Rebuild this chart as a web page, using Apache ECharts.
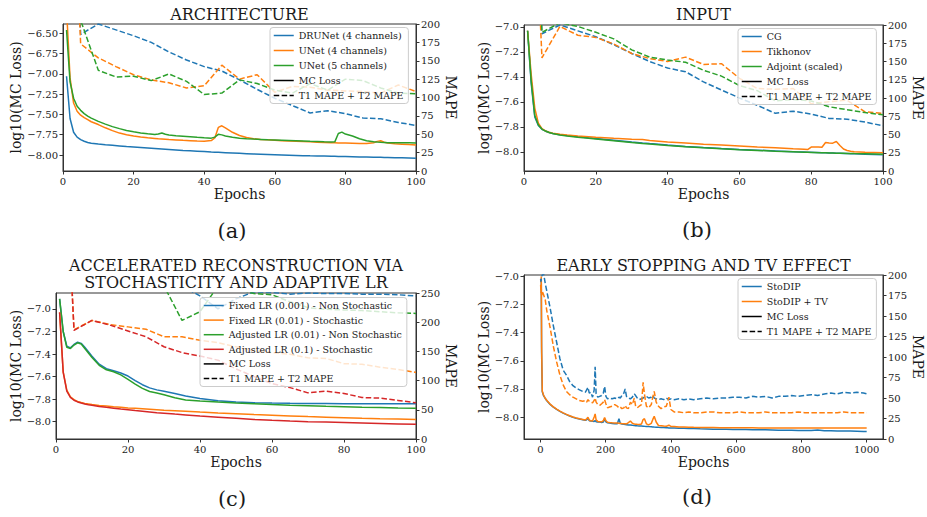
<!DOCTYPE html>
<html>
<head>
<meta charset="utf-8">
<title>MC loss and MAPE curves</title>
<script src="https://cdn.jsdelivr.net/npm/echarts@6/dist/echarts.min.js"></script>
<style>
  html, body { margin: 0; padding: 0; background: #fff; }
  #chart { width: 927px; height: 517px; }
</style>
</head>
<body>
<div id="chart"></div>
<script>
// ---- data: (a) architecture ----
const aLossEpochs = [1, 2, 3, 4, 5, 6, 7, 8, 10, 12, 14, 16, 18, 20, 22, 24, 26, 27, 28, 29, 30, 32, 34, 36, 38, 40, 42, 43, 44, 45, 46, 48, 50, 52, 54, 56, 58, 60, 62, 64, 66, 68, 70, 72, 74, 76, 77, 78, 79, 80, 82, 84, 86, 88, 89, 90, 91, 92, 94, 96, 98, 100];
const aDrunetLoss = [-7.03, -7.55, -7.72, -7.78, -7.81, -7.83, -7.845, -7.855, -7.865, -7.874, -7.881, -7.888, -7.895, -7.901, -7.907, -7.913, -7.919, -7.922, -7.925, -7.928, -7.931, -7.937, -7.943, -7.948, -7.953, -7.958, -7.963, -7.965, -7.967, -7.969, -7.971, -7.975, -7.979, -7.983, -7.987, -7.99, -7.993, -7.996, -7.999, -8.002, -8.005, -8.008, -8.01, -8.011, -8.013, -8.015, -8.016, -8.017, -8.018, -8.019, -8.021, -8.023, -8.025, -8.027, -8.028, -8.029, -8.03, -8.031, -8.033, -8.035, -8.037, -8.039];
const aUnet4Loss = [-6.2, -7.05, -7.36, -7.46, -7.51, -7.54, -7.565, -7.59, -7.625, -7.665, -7.7, -7.73, -7.75, -7.765, -7.778, -7.788, -7.796, -7.8, -7.803, -7.806, -7.809, -7.814, -7.819, -7.823, -7.827, -7.83, -7.822, -7.79, -7.66, -7.64, -7.665, -7.72, -7.76, -7.785, -7.8, -7.808, -7.813, -7.818, -7.823, -7.827, -7.831, -7.835, -7.838, -7.842, -7.845, -7.848, -7.849, -7.851, -7.852, -7.853, -7.855, -7.857, -7.858, -7.848, -7.832, -7.825, -7.842, -7.853, -7.86, -7.866, -7.872, -7.876];
const aUnet5Loss = [-6.46, -7.1, -7.3, -7.4, -7.45, -7.49, -7.52, -7.545, -7.585, -7.62, -7.65, -7.675, -7.698, -7.714, -7.728, -7.739, -7.748, -7.742, -7.728, -7.745, -7.753, -7.762, -7.768, -7.774, -7.782, -7.788, -7.792, -7.78, -7.745, -7.752, -7.766, -7.782, -7.793, -7.799, -7.804, -7.808, -7.812, -7.815, -7.818, -7.821, -7.824, -7.828, -7.832, -7.835, -7.838, -7.84, -7.838, -7.735, -7.718, -7.742, -7.765, -7.8, -7.825, -7.837, -7.841, -7.844, -7.846, -7.848, -7.849, -7.85, -7.85, -7.851];
const mapeEpochs = [1, 5, 10, 15, 20, 25, 30, 35, 40, 45, 50, 55, 60, 65, 70, 75, 80, 85, 90, 95, 100];
const aDrunetMape = [600, 186, 200, 192, 184, 175, 162, 151, 142, 136, 124, 111, 99, 89, 79, 82, 78, 72, 71, 66, 62];
const aUnet4Mape = [600, 173, 154, 142, 131, 124, 120, 113, 116, 144, 125, 131, 107, 115, 114, 110, 109, 108, 106, 117, 108];
const aUnet5Mape = [600, 205, 137, 128, 129, 123, 132, 122, 104, 106, 124, 119, 110, 106, 119, 110, 125, 123, 113, 106, 105];

// ---- data: (b) input ----
const bLossEpochs = [1, 2, 3, 4, 5, 6, 7, 8, 10, 12, 15, 18, 20, 25, 30, 33, 35, 40, 45, 50, 55, 60, 65, 70, 75, 78, 79, 80, 81, 82, 83, 84, 85, 86, 87, 88, 89, 90, 91, 92, 95, 100];
const bCgLoss = [-7.03, -7.45, -7.72, -7.79, -7.82, -7.835, -7.845, -7.853, -7.863, -7.87, -7.88, -7.888, -7.893, -7.907, -7.921, -7.929, -7.934, -7.946, -7.957, -7.966, -7.974, -7.981, -7.987, -7.993, -7.999, -8.002, -8.003, -8.004, -8.005, -8.006, -8.007, -8.008, -8.009, -8.01, -8.011, -8.012, -8.013, -8.014, -8.015, -8.016, -8.019, -8.024];
const bTikhonovLoss = [-7.03, -7.38, -7.65, -7.77, -7.815, -7.833, -7.843, -7.851, -7.86, -7.866, -7.873, -7.879, -7.883, -7.892, -7.899, -7.902, -7.91, -7.921, -7.93, -7.939, -7.946, -7.953, -7.961, -7.968, -7.975, -7.979, -7.982, -7.962, -7.961, -7.962, -7.964, -7.926, -7.93, -7.931, -7.918, -7.95, -7.978, -7.99, -7.996, -7.999, -8.003, -8.008];
const bAdjointLoss = [-7.03, -7.43, -7.71, -7.785, -7.818, -7.834, -7.845, -7.854, -7.865, -7.873, -7.883, -7.892, -7.897, -7.911, -7.925, -7.933, -7.938, -7.949, -7.959, -7.968, -7.976, -7.983, -7.989, -7.995, -8.0, -8.003, -8.004, -8.005, -8.006, -8.007, -8.008, -8.008, -8.009, -8.01, -8.011, -8.011, -8.012, -8.013, -8.013, -8.014, -8.016, -8.02];
const bCgMape = [600, 188, 200, 192, 184, 173, 161, 150, 141, 136, 122, 111, 100, 90, 79, 82, 78, 72, 71, 67, 62];
const bTikhonovMape = [600, 155, 198, 186, 183, 174, 161, 154, 150, 156, 146, 147, 127, 113, 112, 113, 92, 95, 97, 81, 79];
const bAdjointMape = [600, 190, 203, 198, 190, 181, 166, 156, 152, 149, 138, 130, 117, 110, 96, 98, 96, 88, 84, 80, 77];

// ---- data: (c) stochasticity and adaptive LR ----
const cLossEpochs = [1, 2, 3, 4, 5, 6, 7, 8, 9, 10, 12, 14, 16, 18, 20, 22, 24, 26, 28, 30, 33, 36, 40, 45, 50, 55, 60, 65, 70, 75, 80, 85, 90, 95, 100];
const cFixedNsLoss = [-6.91, -7.2, -7.33, -7.345, -7.315, -7.295, -7.305, -7.34, -7.38, -7.42, -7.49, -7.53, -7.548, -7.568, -7.595, -7.635, -7.672, -7.7, -7.718, -7.73, -7.75, -7.772, -7.795, -7.815, -7.826, -7.832, -7.835, -7.837, -7.838, -7.839, -7.84, -7.841, -7.841, -7.842, -7.842];
const cFixedStLoss = [-7.03, -7.56, -7.72, -7.78, -7.805, -7.82, -7.83, -7.838, -7.843, -7.848, -7.856, -7.862, -7.868, -7.873, -7.878, -7.882, -7.886, -7.89, -7.894, -7.898, -7.903, -7.908, -7.915, -7.923, -7.93, -7.937, -7.943, -7.949, -7.955, -7.96, -7.965, -7.97, -7.974, -7.977, -7.98];
const cAdjNsLoss = [-6.91, -7.2, -7.34, -7.35, -7.32, -7.3, -7.31, -7.35, -7.39, -7.43, -7.5, -7.54, -7.557, -7.585, -7.625, -7.667, -7.705, -7.732, -7.746, -7.762, -7.788, -7.808, -7.817, -7.826, -7.834, -7.841, -7.848, -7.854, -7.859, -7.864, -7.868, -7.872, -7.875, -7.878, -7.88];
const cAdjStLoss = [-7.03, -7.56, -7.73, -7.785, -7.81, -7.825, -7.835, -7.843, -7.85, -7.855, -7.865, -7.873, -7.88, -7.888, -7.895, -7.902, -7.908, -7.914, -7.92, -7.925, -7.933, -7.94, -7.95, -7.96, -7.97, -7.98, -7.988, -7.995, -8.0, -8.004, -8.008, -8.012, -8.016, -8.02, -8.024];
const cFixedNsMape = [700, 330, 310, 300, 290, 280, 270, 262, 245, 223, 240, 252, 251, 248, 250, 249, 249, 248, 248, 247, 245];
const cFixedStMape = [700, 187, 203, 196, 192, 188, 175, 175, 169, 165, 158, 151, 148, 145, 139, 138, 129, 128, 123, 119, 114];
const cAdjNsMape = [700, 320, 300, 290, 280, 270, 262, 203, 218, 262, 258, 249, 247, 235, 225, 222, 221, 220, 218, 216, 215];
const cAdjStMape = [700, 186, 203, 195, 185, 175, 158, 148, 142, 135, 120, 107, 95, 88, 79, 82, 78, 71, 70, 66, 62];

// ---- data: (d) early stopping and TV ----
const dEpochs = [1, 2, 3, 4, 6, 10, 15, 20, 30, 40, 50, 60, 70, 80, 90, 100, 110, 120, 130, 138, 142, 146, 150, 155, 160, 165, 168, 171, 176, 182, 188, 193, 197, 201, 206, 212, 220, 228, 236, 241, 245, 250, 256, 260, 264, 270, 276, 282, 288, 292, 297, 303, 310, 315, 319, 325, 332, 340, 345, 349, 355, 362, 370, 378, 386, 390, 394, 400, 410, 425, 440, 455, 470, 490, 510, 530, 550, 570, 590, 610, 630, 650, 670, 690, 710, 730, 750, 770, 790, 810, 830, 850, 870, 890, 910, 930, 950, 970, 990, 1000];
const dStodipLoss = [-7.04, -7.03, -7.05, -7.55, -7.82, -7.848, -7.868, -7.884, -7.91, -7.93, -7.946, -7.96, -7.972, -7.983, -7.993, -8.001, -8.008, -8.014, -8.019, -8.023, -8.019, -8.008, -8.026, -8.028, -8.03, -8.031, -8.025, -8.033, -8.035, -8.036, -8.038, -8.036, -8.012, -8.034, -8.041, -8.043, -8.045, -8.047, -8.048, -8.012, -8.045, -8.05, -8.052, -8.053, -8.054, -8.056, -8.057, -8.059, -8.06, -8.061, -8.062, -8.063, -8.064, -8.065, -8.066, -8.067, -8.068, -8.069, -8.07, -8.071, -8.072, -8.073, -8.074, -8.075, -8.076, -8.076, -8.077, -8.078, -8.078, -8.079, -8.08, -8.081, -8.082, -8.084, -8.085, -8.086, -8.087, -8.087, -8.088, -8.089, -8.089, -8.09, -8.091, -8.091, -8.092, -8.093, -8.093, -8.094, -8.095, -8.095, -8.096, -8.092, -8.097, -8.098, -8.099, -8.1, -8.1, -8.101, -8.102, -8.103];
const dTvLoss = [-7.02, -7.04, -7.0, -7.5, -7.815, -7.845, -7.866, -7.882, -7.908, -7.928, -7.944, -7.958, -7.97, -7.981, -7.991, -7.999, -8.006, -8.012, -8.017, -8.021, -8.012, -8.002, -8.023, -8.026, -8.028, -8.0, -7.978, -8.02, -8.031, -8.033, -8.034, -8.026, -8.004, -8.026, -8.037, -8.039, -8.041, -8.042, -8.043, -8.044, -8.045, -8.046, -8.047, -8.048, -8.049, -8.04, -8.028, -8.044, -8.05, -8.051, -8.052, -8.053, -8.05, -8.018, -8.012, -8.048, -8.056, -8.045, -8.015, -7.995, -8.035, -8.06, -8.062, -8.064, -8.065, -8.062, -8.058, -8.067, -8.068, -8.07, -8.071, -8.072, -8.073, -8.074, -8.075, -8.075, -8.076, -8.076, -8.076, -8.076, -8.076, -8.076, -8.077, -8.077, -8.077, -8.077, -8.077, -8.077, -8.077, -8.077, -8.077, -8.077, -8.077, -8.077, -8.077, -8.077, -8.077, -8.077, -8.077, -8.077];
const dStodipMape = [195, 192, 196, 198, 200, 202, 190, 180, 160, 138, 118, 98, 84, 78, 70, 65, 62, 60, 58, 57, 60, 63, 56, 57, 51, 60, 88, 55, 51, 52, 53, 56, 64, 52, 49, 50, 49, 50, 49, 51, 50, 53, 56, 61, 52, 50, 49, 51, 55, 53, 50, 48, 49, 50, 51, 52, 50, 51, 53, 50, 49, 48, 49, 48, 50, 49, 48, 49, 48, 49, 48, 49, 48, 49, 50, 49, 50, 50, 51, 51, 50, 52, 51, 52, 50, 52, 52, 53, 52, 53, 54, 53, 55, 56, 55, 57, 56, 57, 56, 55];
const dTvMape = [188, 178, 183, 175, 180, 176, 170, 156, 136, 113, 94, 78, 66, 58, 54, 51, 49, 47, 46, 47, 45, 48, 46, 45, 44, 47, 50, 45, 42, 41, 43, 45, 48, 43, 38, 39, 40, 42, 40, 38, 39, 37, 38, 41, 38, 37, 45, 42, 50, 40, 38, 40, 42, 69, 55, 40, 38, 42, 52, 58, 45, 40, 37, 39, 40, 45, 51, 36, 33, 33, 32, 33, 32, 32, 33, 33, 32, 32, 32, 33, 32, 32, 32, 33, 32, 32, 32, 32, 33, 32, 32, 32, 32, 32, 32, 33, 32, 32, 32, 32];

const lossTicks = [-8.0, -7.8, -7.6, -7.4, -7.2, -7.0];
const lossTicksA = [-8.0, -7.75, -7.5, -7.25, -7.0, -6.75, -6.5];
const epochTicks = [0, 20, 40, 60, 80, 100];
const epochTicksD = [0, 200, 400, 600, 800, 1000];

const BLUE = '#1f77b4';
const ORANGE = '#ff7f0e';
const GREEN = '#2ca02c';
const RED = '#d62728';
const FONT = 'DejaVu Serif';
const DASH = [5.5, 2.4];
const INK = '#1a1a1a';

const tickStyle = { color: INK, fontFamily: FONT, fontSize: 10 };
const nameStyle = { color: INK, fontFamily: FONT, fontSize: 14 };

function zip (xs, ys) {
    return xs.map((x, i) => [x, ys[i]]);
}

function minus (v, digits) {
    return (v < 0 ? '\u2212' : '') + Math.abs(v).toFixed(digits);
}

function curve (name, xs, ys, color, panel, onMape) {
    return {
        name: name,
        type: 'line',
        xAxisIndex: panel,
        yAxisIndex: panel * 2 + (onMape ? 1 : 0),
        data: zip(xs, ys),
        symbol: 'none',
        showSymbol: false,
        clip: true,
        silent: true,
        z: onMape ? 3 : 2,
        lineStyle: { color: color, width: 1.5, type: onMape ? DASH : 'solid' },
        itemStyle: { color: color }
    };
}

function epochAxis (panel, min, max, ticks, gap) {
    return {
        type: 'value',
        gridIndex: panel,
        min: min,
        max: max,
        name: 'Epochs',
        nameLocation: 'middle',
        nameGap: gap,
        nameTextStyle: nameStyle,
        axisLine: { show: true, onZero: false, lineStyle: { color: '#333', width: 1 } },
        axisTick: { show: true, length: 3.5, customValues: ticks, lineStyle: { color: '#333' } },
        axisLabel: Object.assign({ customValues: ticks, margin: 5, formatter: v => String(v) }, tickStyle),
        splitLine: { show: false }
    };
}

function lossAxis (panel, min, max, ticks, digits, gap) {
    return {
        type: 'value',
        gridIndex: panel,
        position: 'left',
        min: min,
        max: max,
        name: 'log10(MC Loss)',
        nameLocation: 'middle',
        nameRotate: 90,
        nameGap: gap,
        nameTextStyle: nameStyle,
        axisLine: { show: true, onZero: false, lineStyle: { color: '#333', width: 1 } },
        axisTick: { show: true, length: 3.5, customValues: ticks, lineStyle: { color: '#333' } },
        axisLabel: Object.assign({ customValues: ticks, margin: 5, formatter: v => minus(v, digits) }, tickStyle),
        splitLine: { show: false }
    };
}

function mapeAxis (panel, max, step, gap) {
    return {
        type: 'value',
        gridIndex: panel,
        position: 'right',
        min: 0,
        max: max,
        interval: step,
        name: 'MAPE',
        nameLocation: 'middle',
        nameRotate: -90,
        nameGap: gap,
        nameTextStyle: nameStyle,
        axisLine: { show: true, onZero: false, lineStyle: { color: '#333', width: 1 } },
        axisTick: { show: true, length: 3.5, lineStyle: { color: '#333' } },
        axisLabel: Object.assign({ margin: 5 }, tickStyle),
        splitLine: { show: false }
    };
}

function legendBox (names, left, top, gap) {
    return {
        data: names,
        orient: 'vertical',
        left: left,
        top: top,
        itemWidth: 20,
        itemHeight: 12,
        itemGap: gap,
        padding: [2, 5, 2, 3],
        backgroundColor: 'rgba(255,255,255,0.8)',
        borderColor: '#cccccc',
        borderWidth: 1,
        borderRadius: 3,
        selectedMode: false,
        itemStyle: { opacity: 0 },
        lineStyle: { width: 1.5 },
        textStyle: { color: INK, fontFamily: FONT, fontSize: 9.5, lineHeight: 12 }
    };
}

function label (text, x, y, size) {
    return {
        type: 'text',
        x: x,
        y: y,
        silent: true,
        style: {
            text: text,
            font: size + 'px "' + FONT + '"',
            fill: INK,
            align: 'center',
            verticalAlign: 'middle',
            lineHeight: size
        }
    };
}

function gridBox (left, top, width, height) {
    return { left: left, top: top, width: width, height: height, show: true, borderColor: '#333', borderWidth: 1, containLabel: false };
}

const MC = 'MC Loss';
const MP = 'T1 MAPE + T2 MAPE';

const series = [
    // legend keys for line styles
    { name: MC, type: 'line', xAxisIndex: 0, yAxisIndex: 0, data: [], symbol: 'none', lineStyle: { color: '#000', width: 1.5 }, itemStyle: { color: '#000' } },
    { name: MP, type: 'line', xAxisIndex: 0, yAxisIndex: 1, data: [], symbol: 'none', lineStyle: { color: '#000', width: 1.5, type: DASH }, itemStyle: { color: '#000' } },

    curve('DRUNet (4 channels)', aLossEpochs, aDrunetLoss, BLUE, 0, false),
    curve('UNet (4 channels)', aLossEpochs, aUnet4Loss, ORANGE, 0, false),
    curve('UNet (5 channels)', aLossEpochs, aUnet5Loss, GREEN, 0, false),
    curve('DRUNet MAPE', mapeEpochs, aDrunetMape, BLUE, 0, true),
    curve('UNet4 MAPE', mapeEpochs, aUnet4Mape, ORANGE, 0, true),
    curve('UNet5 MAPE', mapeEpochs, aUnet5Mape, GREEN, 0, true),

    curve('CG', bLossEpochs, bCgLoss, BLUE, 1, false),
    curve('Tikhonov', bLossEpochs, bTikhonovLoss, ORANGE, 1, false),
    curve('Adjoint (scaled)', bLossEpochs, bAdjointLoss, GREEN, 1, false),
    curve('CG MAPE', mapeEpochs, bCgMape, BLUE, 1, true),
    curve('Tikhonov MAPE', mapeEpochs, bTikhonovMape, ORANGE, 1, true),
    curve('Adjoint MAPE', mapeEpochs, bAdjointMape, GREEN, 1, true),

    curve('Fixed LR (0.001) - Non Stochastic', cLossEpochs, cFixedNsLoss, BLUE, 2, false),
    curve('Fixed LR (0.01) - Stochastic', cLossEpochs, cFixedStLoss, ORANGE, 2, false),
    curve('Adjusted LR (0.01) - Non Stochastic', cLossEpochs, cAdjNsLoss, GREEN, 2, false),
    curve('Adjusted LR (0.1) - Stochastic', cLossEpochs, cAdjStLoss, RED, 2, false),
    curve('Fixed NS MAPE', mapeEpochs, cFixedNsMape, BLUE, 2, true),
    curve('Fixed St MAPE', mapeEpochs, cFixedStMape, ORANGE, 2, true),
    curve('Adjusted NS MAPE', mapeEpochs, cAdjNsMape, GREEN, 2, true),
    curve('Adjusted St MAPE', mapeEpochs, cAdjStMape, RED, 2, true),

    curve('StoDIP', dEpochs, dStodipLoss, BLUE, 3, false),
    curve('StoDIP + TV', dEpochs, dTvLoss, ORANGE, 3, false),
    curve('StoDIP MAPE', dEpochs, dStodipMape, BLUE, 3, true),
    curve('StoDIP + TV MAPE', dEpochs, dTvMape, ORANGE, 3, true)
];

const option = {
    animation: false,
    backgroundColor: '#fff',
    grid: [
        gridBox(63, 24, 353, 147),
        gridBox(524, 25, 359, 146),
        gridBox(56, 293, 360, 146),
        gridBox(524, 275, 359, 164)
    ],
    xAxis: [
        epochAxis(0, 0, 100, epochTicks, 16),
        epochAxis(1, 0, 100, epochTicks, 16),
        epochAxis(2, 0, 100, epochTicks, 15),
        epochAxis(3, -50, 1050, epochTicksD, 15)
    ],
    yAxis: [
        lossAxis(0, -8.197, -6.386, lossTicksA, 2, 39),
        mapeAxis(0, 200, 25, 27),
        lossAxis(1, -8.154, -6.984, lossTicks, 1, 32),
        mapeAxis(1, 200, 25, 27),
        lossAxis(2, -8.154, -6.858, lossTicks, 1, 32),
        mapeAxis(2, 250, 50, 27),
        lossAxis(3, -8.156, -6.99, lossTicks, 1, 32),
        mapeAxis(3, 200, 25, 27)
    ],
    legend: [
        legendBox(['DRUNet (4 channels)', 'UNet (4 channels)', 'UNet (5 channels)', MC, MP], 270, 27.5, 3),
        legendBox(['CG', 'Tikhonov', 'Adjoint (scaled)', MC, MP], 738, 28.5, 3),
        legendBox(['Fixed LR (0.001) - Non Stochastic', 'Fixed LR (0.01) - Stochastic', 'Adjusted LR (0.01) - Non Stochastic', 'Adjusted LR (0.1) - Stochastic', MC, MP], 200, 297.5, 2.6),
        legendBox(['StoDIP', 'StoDIP + TV', MC, MP], 738, 278.5, 3)
    ],
    graphic: [
        label('ARCHITECTURE', 239.5, 14, 16),
        label('INPUT', 703.5, 14, 16),
        label('ACCELERATED RECONSTRUCTION VIA', 236, 265, 16),
        label('STOCHASTICITY AND ADAPTIVE LR', 236, 282.5, 16),
        label('EARLY STOPPING AND TV EFFECT', 703.5, 265, 16),
        label('(a)', 232, 231, 21),
        label('(b)', 697, 230, 21),
        label('(c)', 232, 499, 21),
        label('(d)', 697, 497, 21)
    ],
    series: series
};

const myChart = echarts.init(document.getElementById('chart'), null, { renderer: 'svg' });
myChart.setOption(option);
</script>
</body>
</html>
